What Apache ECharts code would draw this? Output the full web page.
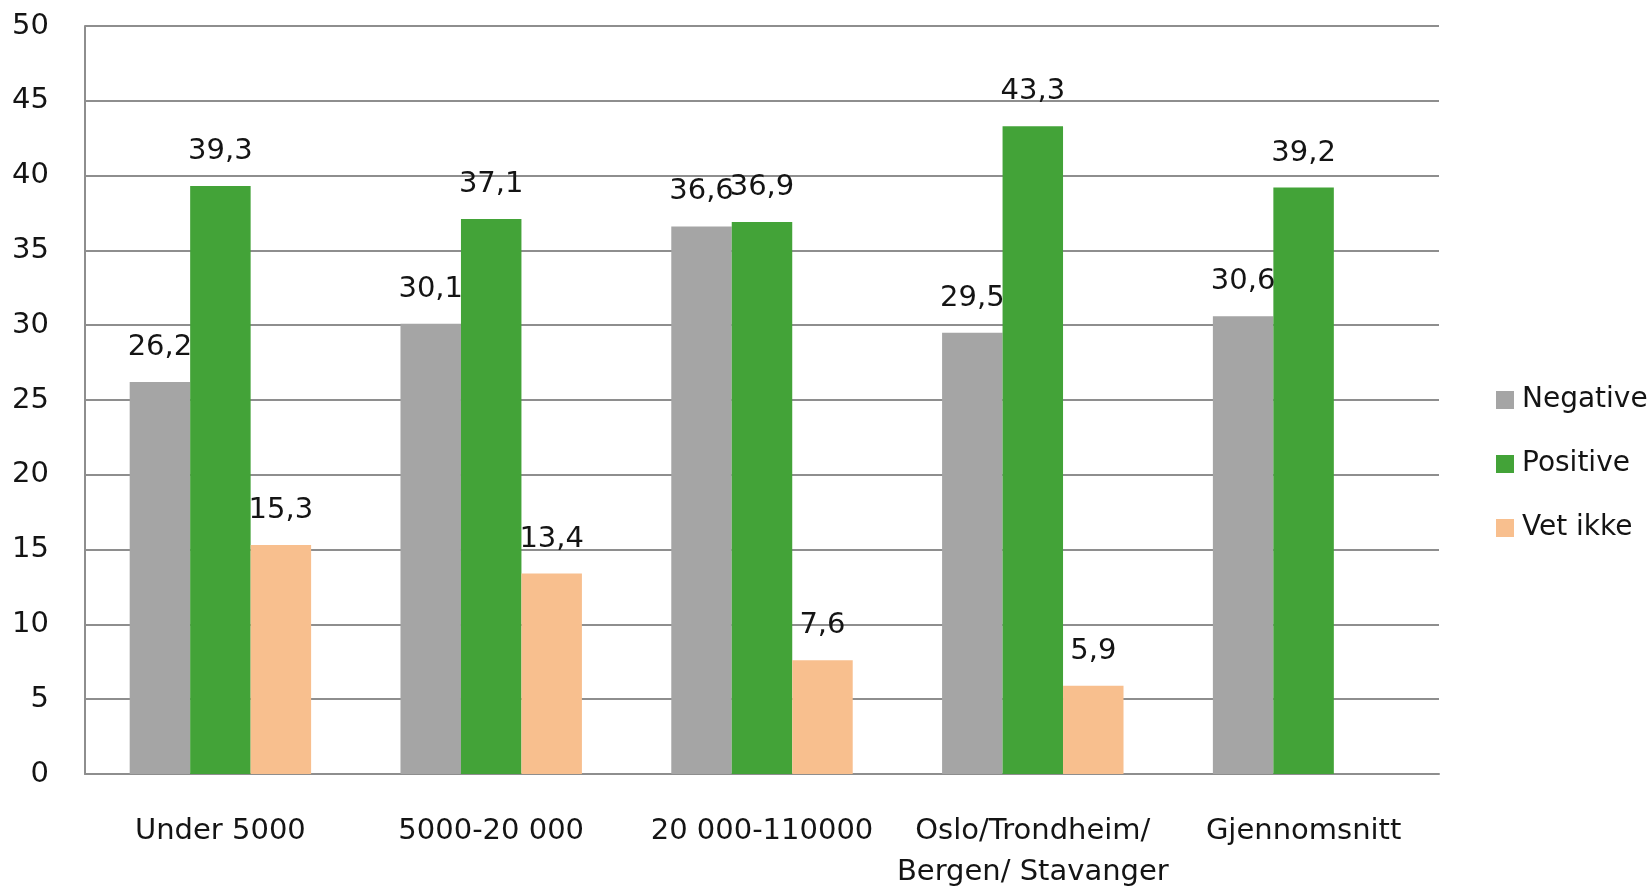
<!DOCTYPE html>
<html>
<head>
<meta charset="utf-8">
<script src="https://cdn.jsdelivr.net/npm/echarts@6/dist/echarts.min.js"></script>
<style>
  html, body { margin: 0; padding: 0; background: #fff; }
  #chart { width: 1650px; height: 893px; }
</style>
</head>
<body>
<div id="chart"></div>
<script>
const categories = ['Under 5000', '5000-20 000', '20 000-110000', 'Oslo/Trondheim/\nBergen/ Stavanger', 'Gjennomsnitt']
const negative = [26.2, 30.1, 36.6, 29.5, 30.6]
const positive = [39.3, 37.1, 36.9, 43.3, 39.2]
const vetIkke = [15.3, 13.4, 7.6, 5.9, null]

const font = 'DejaVu Sans'
const textColor = '#141414'
const gridColor = '#8e8e8e'

// verdier vises med komma som desimaltegn
const fmt = (p) => String(p.value).replace('.', ',')

function barSeries(name, data, color) {
  return {
    name,
    type: 'bar',
    data,
    barGap: 0,
    barCategoryGap: '33%',
    itemStyle: { color },
    label: {
      show: true,
      position: 'top',
      distance: 20,
      formatter: fmt,
      color: textColor,
      fontFamily: font,
      fontSize: 29,
    },
  }
}

const chart = echarts.init(document.getElementById('chart'))
chart.setOption({
  backgroundColor: '#fff',
  animation: false,
  grid: { left: 85, right: 211, top: 26, bottom: 117 },
  legend: {
    orient: 'vertical',
    left: 1496,
    top: 386,
    padding: 0,
    icon: 'rect',
    itemWidth: 18,
    itemHeight: 18,
    itemGap: 36,
    textStyle: {
      color: textColor,
      fontFamily: font,
      fontSize: 28,
      lineHeight: 28,
      padding: [0, 0, 0, 3],
    },
  },
  xAxis: {
    type: 'category',
    data: categories,
    axisTick: { show: false },
    axisLine: { lineStyle: { color: gridColor, width: 2 } },
    axisLabel: {
      color: textColor,
      fontFamily: font,
      fontSize: 29,
      lineHeight: 41,
      margin: 37,
      interval: 0,
    },
  },
  yAxis: {
    type: 'value',
    min: 0,
    max: 50,
    interval: 5,
    axisLine: { show: true, lineStyle: { color: gridColor, width: 2 } },
    axisTick: { show: false },
    splitLine: { lineStyle: { color: gridColor, width: 2 } },
    axisLabel: {
      color: textColor,
      fontFamily: font,
      fontSize: 29,
      margin: 36,
    },
  },
  series: [
    barSeries('Negative', negative, '#a5a5a5'),
    barSeries('Positive', positive, '#43a338'),
    barSeries('Vet ikke', vetIkke, '#f8bf8e'),
  ],
})
</script>
</body>
</html>
